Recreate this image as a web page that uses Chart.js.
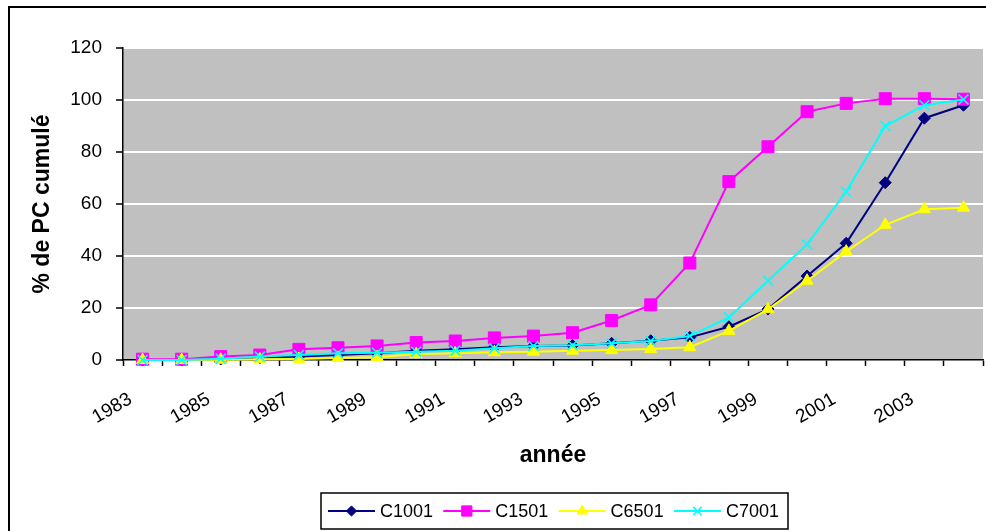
<!DOCTYPE html>
<html>
<head>
<meta charset="utf-8">
<script src="https://cdn.jsdelivr.net/npm/chart.js@4.4.0/dist/chart.umd.min.js"></script>
<style>
  html, body { margin:0; padding:0; background:#fff; overflow:hidden; }
  #wrap { position:relative; width:986px; height:531px; overflow:hidden; }
  #frame { position:absolute; left:8px; top:6px; width:2000px; height:2000px;
           border-left:2px solid #000; border-top:2px solid #000; pointer-events:none; }
  canvas { position:absolute; left:0; top:0; }
</style>
</head>
<body>
<div id="wrap">
  <canvas id="c" width="986" height="531"></canvas>
  <div id="frame"></div>
</div>
<script>
// ---- data ----
const years = ['1983','1984','1985','1986','1987','1988','1989','1990','1991','1992','1993',
               '1994','1995','1996','1997','1998','1999','2000','2001','2002','2003','2004'];
const tickLabels = ['1983','','1985','','1987','','1989','','1991','','1993',
                    '','1995','','1997','','1999','','2001','','2003',''];
const c1001 = [0, 0, 0.4, 0.9, 1.3, 1.9, 2.6, 3.6, 4.1, 4.9, 5.4, 5.6, 6.4, 7.4, 8.7, 12.8, 19.6, 32.3, 44.9, 68.2, 93, 98];
const c1501 = [0.3, 0.3, 1.3, 1.9, 4.1, 4.7, 5.4, 6.7, 7.3, 8.5, 9.2, 10.5, 15.2, 21.2, 37.3, 68.6, 82, 95.5, 98.7, 100.5, 100.5, 100.3];
const c6501 = [0, 0, 0.1, 0.3, 0.4, 0.8, 1.1, 2.3, 2.6, 3.0, 3.2, 3.6, 3.8, 4.2, 4.9, 11.2, 19.5, 30.5, 41.7, 52, 58, 58.6];
const c7001 = [0, 0, 0.5, 1.3, 1.9, 2.6, 2.8, 3.2, 3.6, 4.5, 5.4, 5.7, 6.4, 7.3, 9.2, 16.4, 30.5, 44.5, 64.7, 90, 98, 100.2];
const yTitle = '% de PC cumulé';
const xTitle = 'année';

const FONT = "'Liberation Sans', Arial, sans-serif";

const plotBg = {
  id: 'plotBg',
  beforeDraw(chart) {
    const {ctx, chartArea: a} = chart;
    ctx.save();
    ctx.fillStyle = '#C0C0C0';
    ctx.fillRect(a.left, a.top, a.right - a.left, a.bottom - a.top);
    ctx.restore();
  }
};

const excelLegend = {
  id: 'excelLegend',
  afterDraw(chart) {
    const {ctx, chartArea: a} = chart;
    const boxW = 467, boxH = 36, itemW = 115.3;
    const cx = (a.left + a.right) / 2 + 1.5;
    const left = cx - boxW / 2, top = 493;
    ctx.save();
    ctx.fillStyle = '#fff';
    ctx.fillRect(left, top, boxW, boxH);
    ctx.lineWidth = 1.5;
    ctx.strokeStyle = '#000';
    ctx.strokeRect(left, top, boxW, boxH);
    const my = top + boxH / 2;
    chart.data.datasets.forEach((ds, i) => {
      const sx = left + 7 + i * itemW;
      ctx.strokeStyle = ds.borderColor;
      ctx.lineWidth = 2;
      ctx.beginPath();
      ctx.moveTo(sx, my);
      ctx.lineTo(sx + 47, my);
      ctx.stroke();
      ctx.fillStyle = ds.backgroundColor;
      ctx.strokeStyle = ds.borderColor;
      ctx.lineWidth = ds.pointBorderWidth;
      Chart.helpers.drawPoint(ctx, {pointStyle: ds.pointStyle, radius: ds.pointRadius * 0.85, rotation: 0, borderWidth: ds.pointBorderWidth}, sx + 23.5, my);
      ctx.fillStyle = '#000';
      ctx.font = '18px ' + FONT;
      ctx.textAlign = 'left';
      ctx.textBaseline = 'middle';
      ctx.fillText(ds.label, sx + 52, my + 1);
    });
    ctx.restore();
  }
};

const mk = (label, data, color, style, r, bw, order) => ({
  label, data, borderColor: color, backgroundColor: color,
  pointStyle: style, pointRadius: r, pointHoverRadius: r,
  pointBorderWidth: bw, borderWidth: 2, tension: 0, order, clip: false
});

new Chart(document.getElementById('c'), {
  type: 'line',
  data: {
    labels: years,
    datasets: [
      mk('C1001', c1001, '#000080', 'rectRot', 6, 1, 3),
      mk('C1501', c1501, '#FF00FF', 'rect', 8.5, 1, 2),
      mk('C6501', c6501, '#FFFF00', 'triangle', 7, 1, 1),
      mk('C7001', c7001, '#00FFFF', 'crossRot', 7, 1.6, 0)
    ]
  },
  options: {
    responsive: false,
    devicePixelRatio: 1,
    animation: false,
    layout: { autoPadding: false, padding: { left: 8, top: 48, right: 3, bottom: 61 } },
    plugins: { legend: { display: false }, tooltip: { enabled: false } },
    scales: {
      x: {
        type: 'category',
        offset: true,
        grid: { offset: true, drawOnChartArea: false, drawTicks: true, tickLength: 6, tickColor: '#000', tickWidth: 1.5 },
        border: { display: true, color: '#000', width: 1.5 },
        ticks: {
          autoSkip: false, minRotation: 30, maxRotation: 30, padding: 22, labelOffset: -12,
          color: '#000', font: { family: FONT, size: 19 },
          callback: (v, i) => tickLabels[i]
        },
        title: { display: true, text: xTitle, color: '#000', font: { family: FONT, size: 23, weight: 'bold' }, padding: { top: 0, bottom: 1 } },
        afterFit: s => { s.height = 110; s.paddingRight = 0; s.paddingLeft = 0; }
      },
      y: {
        min: 0, max: 120,
        ticks: { stepSize: 20, padding: 14, color: '#000', font: { family: FONT, size: 19 } },
        grid: {
          color: c => (c.tick && c.tick.value === 0) ? 'rgba(0,0,0,0)' : '#fff',
          lineWidth: 2, tickColor: '#000', tickLength: 7, tickWidth: 1.5
        },
        border: { display: true, color: '#000', width: 1.5 },
        title: { display: true, text: yTitle, color: '#000', font: { family: FONT, size: 23, weight: 'bold' }, padding: { top: 21, bottom: 0 } },
        afterFit: s => { s.width = 115; }
      }
    }
  },
  plugins: [plotBg, excelLegend]
});
</script>
</body>
</html>
